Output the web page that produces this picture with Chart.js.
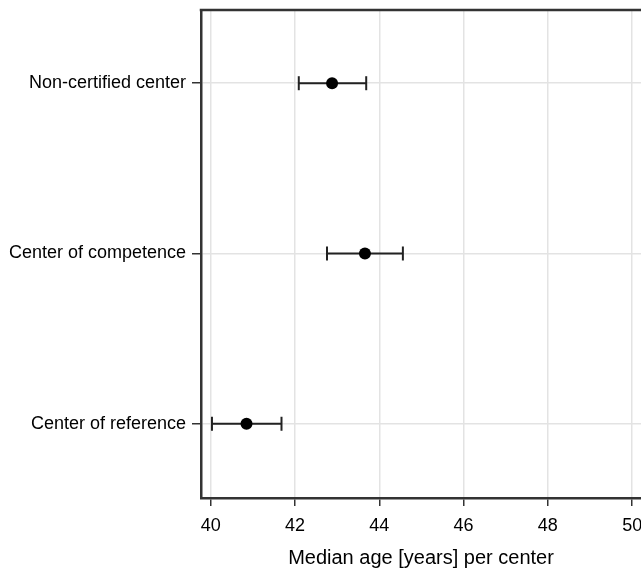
<!DOCTYPE html>
<html>
<head>
<meta charset="utf-8">
<script src="https://cdn.jsdelivr.net/npm/chart.js@4"></script>
<style>
  html, body { margin: 0; padding: 0; background: #fff; }
  #chart { display: block; }
</style>
</head>
<body>
<canvas id="chart" width="641" height="568"></canvas>
<script>
// data (top to bottom)
var centers = ['Non-certified center', 'Center of competence', 'Center of reference']
var medianAge = [42.88, 43.66, 40.85]
var ciLow = [42.09, 42.76, 40.03]
var ciHigh = [43.69, 44.56, 41.68]
var xTicks = [40, 42, 44, 46, 48, 50]
var xTitle = 'Median age [years] per center'

// row position: first category at top
function rowY(i){ return centers.length - i }

var datasets = []
centers.forEach(function(c, i){
  datasets.push({
    type: 'scatter',
    label: c + ' CI',
    data: [{x: ciLow[i], y: rowY(i)}, {x: ciHigh[i], y: rowY(i)}],
    showLine: true,
    borderColor: '#222',
    borderWidth: 2,
    pointStyle: 'line',
    rotation: 90,
    pointRadius: 7,
    pointBorderWidth: 2,
    pointBorderColor: '#222',
    order: 2
  })
})
datasets.push({
  type: 'scatter',
  label: 'Median',
  data: medianAge.map(function(v, i){ return {x: v, y: rowY(i)} }),
  pointRadius: 6,
  pointBackgroundColor: '#000',
  pointBorderColor: '#000',
  pointBorderWidth: 0,
  order: 1
})

// top frame line
var topBorder = {
  id: 'topBorder',
  afterDraw: function(chart){
    var a = chart.chartArea, c = chart.ctx
    c.save()
    c.strokeStyle = '#333'
    c.lineWidth = 2.5
    c.beginPath()
    c.moveTo(a.left - 1.25, a.top)
    c.lineTo(a.right, a.top)
    c.stroke()
    c.restore()
  }
}

new Chart(document.getElementById('chart'), {
  type: 'scatter',
  data: { datasets: datasets },
  plugins: [topBorder],
  options: {
    responsive: false,
    animation: false,
    layout: { autoPadding: false, padding: { top: 10, right: 0, left: 0, bottom: 0 } },
    plugins: { legend: { display: false }, tooltip: { enabled: false } },
    scales: {
      x: {
        type: 'linear',
        min: 39.77,
        max: 50.21,
        afterBuildTicks: function(s){ s.ticks = xTicks.map(function(v){ return {value: v} }) },
        afterFit: function(s){ s.height = 70; s.paddingLeft = 0; s.paddingRight = 0 },
        grid: { color: '#e3e3e3', lineWidth: 1.5, drawTicks: true, tickLength: 8, tickColor: '#333', tickWidth: 1.5 },
        border: { color: '#333', width: 2.5 },
        ticks: { color: '#000', padding: 9, font: { family: 'Liberation Sans', size: 18 }, maxRotation: 0 },
        title: { display: true, text: xTitle, color: '#000', padding: { top: 4, bottom: -2 }, font: { family: 'Liberation Sans', size: 20 } }
      },
      y: {
        type: 'linear',
        min: 0.564,
        max: 3.43,
        afterBuildTicks: function(s){ s.ticks = centers.map(function(c, i){ return {value: rowY(i)} }) },
        afterFit: function(s){ s.width = 201; s.paddingTop = 0; s.paddingBottom = 0 },
        grid: { color: '#e3e3e3', lineWidth: 1.5, drawTicks: true, tickLength: 9, tickColor: '#333', tickWidth: 1.5 },
        border: { color: '#333', width: 2.5 },
        ticks: {
          color: '#000', padding: 6, font: { family: 'Liberation Sans', size: 18 },
          callback: function(v){ return centers[centers.length - v] }
        }
      }
    }
  }
})
</script>
</body>
</html>
